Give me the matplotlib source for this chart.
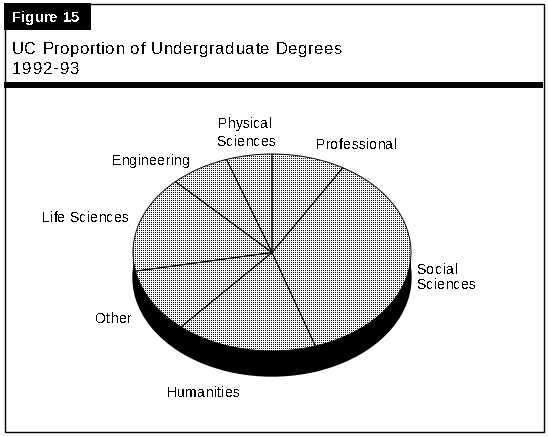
import numpy as np
import matplotlib
matplotlib.use("Agg")
import matplotlib.pyplot as plt
from matplotlib.patches import Rectangle, Circle

W, H = 548, 437

labels = ['Professional', 'Social\nSciences', 'Humanities', 'Other',
          'Life Sciences', 'Engineering', 'Physical\nSciences']
shares = [8.5, 36.4, 16.4, 10.6, 15.8, 6.9, 5.3]

plt.rcParams['font.family'] = ['Liberation Sans', 'DejaVu Sans']
plt.rcParams['text.antialiased'] = False

fig = plt.figure(figsize=(W / 100, H / 100), dpi=100)
bg = fig.add_axes([0, 0, 1, 1])
bg.set_xlim(0, W)
bg.set_ylim(H, 0)
bg.axis('off')


def spaced(x, y, s, size, width, color='black', weight='normal'):
    # matplotlib has no letter spacing, so place the glyphs one by one
    r = fig.canvas.get_renderer()
    adv = []
    for i in range(len(s)):
        t = bg.text(0, 0, s[:i + 1] + '|', fontsize=size, weight=weight)
        bar = bg.text(0, 0, '|', fontsize=size, weight=weight)
        adv.append(t.get_window_extent(r).width - bar.get_window_extent(r).width)
        t.remove()
        bar.remove()
    extra = (width - adv[-1]) / max(len(s) - 1, 1)
    for i, ch in enumerate(s):
        x0 = x + (adv[i - 1] if i else 0) + extra * i
        bg.text(x0, y, ch, fontsize=size, color=color, weight=weight, va='baseline', ha='left')


# frame, title block, rule
bg.add_patch(Rectangle((4.5, 3.5), 539.5, 428, fill=False, ec='black', lw=1))
bg.add_patch(Rectangle((4, 3), 87, 27, fc='black', ec='none'))
bg.add_patch(Rectangle((4, 82), 539, 6, fc='black', ec='none'))
spaced(12, 22, 'Figure 15', 10.5, 67, color='white', weight='bold')
spaced(12, 54, 'UC Proportion of Undergraduate Degrees', 12, 330)
spaced(12, 74, '1992-93', 12, 68)

# pie, squashed by letting the axes be wider than tall
left, right, top, bottom = 133, 411, 154, 351
side = 25
depth = side / ((bottom - top) / 2)
ax = fig.add_axes([left / W, 1 - (bottom + side) / H, (right - left) / W, (bottom + side - top) / H])
ax.axis('off')
ax.add_patch(Rectangle((-1, -depth), 2, depth, fc='black', ec='none'))
ax.pie(shares, startangle=90, counterclock=False, radius=1, center=(0, -depth),
       colors=['black'] * len(shares), wedgeprops=dict(lw=1, ec='black'))
wedges, _ = ax.pie(shares, startangle=90, counterclock=False, radius=1, colors=['none'] * len(shares),
                   wedgeprops=dict(lw=0.7, ec='black', zorder=4))

# 2 px dot screen laid over the top face
screen = np.ones((bottom + side - top, right - left))
screen[::2, ::2] = 0
im = ax.imshow(screen, cmap='gray', vmin=0, vmax=1, interpolation='nearest', aspect='auto',
               extent=(-1, 1, -1 - depth, 1), zorder=3)
im.set_clip_path(Circle((0, 0), 1, transform=ax.transData))
ax.set_aspect('auto')
ax.set_xlim(-1, 1)
ax.set_ylim(-1 - depth, 1)

# labels, one row per printed line: x, baseline, width
label_rows = [
    [(316, 149, 81)],
    [(417, 274, 41), (417, 289, 59)],
    [(167, 397, 73)],
    [(95, 323, 37)],
    [(42, 222, 87)],
    [(112, 165, 78)],
    [(218, 128, 54), (217, 146, 59)],
]
for name, rows in zip(labels, label_rows):
    for s, (x, y, wd) in zip(name.split('\n'), rows):
        spaced(x, y, s, 10, wd)

fig.savefig('out.png', dpi=100)
